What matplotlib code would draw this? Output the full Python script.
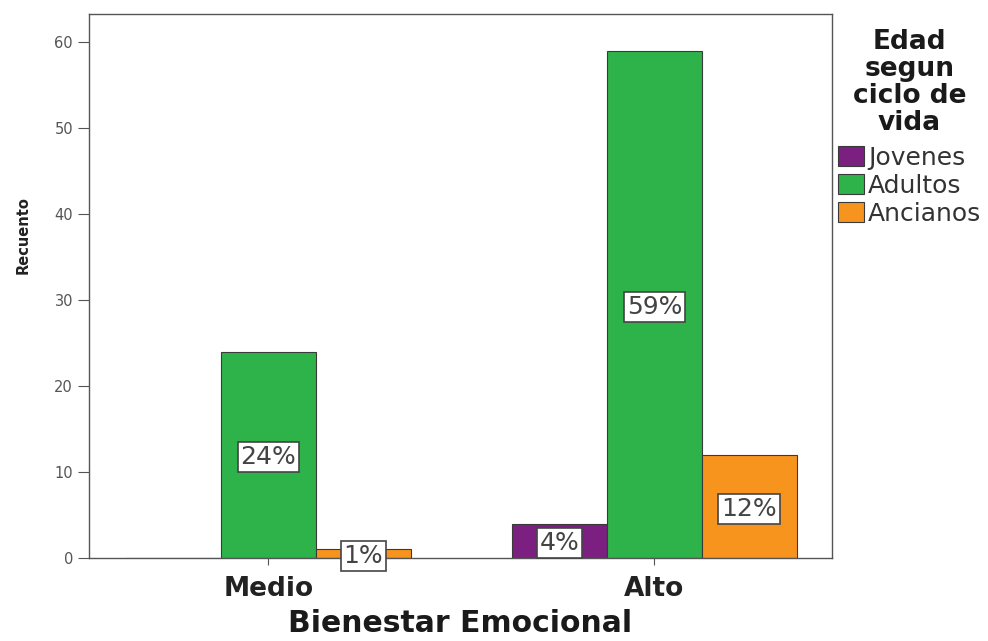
import matplotlib
matplotlib.use("Agg")
import matplotlib.pyplot as plt
import numpy as np

categories = ["Medio", "Alto"]
series_names = ["Jovenes", "Adultos", "Ancianos"]
jovenes = [0, 4]
adultos = [24, 59]
ancianos = [1, 12]
pct_jovenes = ["", "4%"]
pct_adultos = ["24%", "59%"]
pct_ancianos = ["1%", "12%"]
yticks = [0, 10, 20, 30, 40, 50, 60]

colors = ["#7B1F80", "#2DB34A", "#F7941E"]

plt.rcParams['font.family'] = ['DejaVu Sans']
fig = plt.figure(figsize=(9.88, 6.41), dpi=100)
ax = fig.add_axes([0.090, 0.1295, 0.752, 0.8485])

x = np.arange(len(categories))
w = 0.246
series = [jovenes, adultos, ancianos]
pcts = [pct_jovenes, pct_adultos, pct_ancianos]
for i, (vals, lab, name) in enumerate(zip(series, pcts, series_names)):
    pos = x + (i - 1) * w
    ax.bar(pos, vals, width=w, color=colors[i], edgecolor="#3a3a3a", linewidth=0.8, label=name)
    for p, v, t in zip(pos, vals, lab):
        if t:
            ax.text(p, v / 2 - 0.3, t, ha="center", va="center", fontsize=18, color="#444444",
                    bbox=dict(boxstyle="square,pad=0.12", facecolor="white", edgecolor="#444444", linewidth=1.2))

ax.set_xlim(-0.465, 1.46)
ax.set_ylim(0, 63.3)
ax.set_yticks(yticks)
ax.set_xticks(x)
ax.set_xticklabels(categories, fontsize=19, fontweight="bold", color="#222222")
ax.tick_params(axis="y", labelsize=10.5, labelcolor="#555555", length=8, color="#555555", direction="out")
ax.tick_params(axis="x", length=5, color="#555555", direction="out", pad=8)
for s in ax.spines.values():
    s.set_color("#555555")
    s.set_linewidth(1)

ax.set_xlabel("Bienestar Emocional", fontsize=21.5, fontweight="bold", color="#1a1a1a", labelpad=5)
ax.set_ylabel("Recuento", fontsize=10.5, fontweight="bold", color="#222222")
ax.yaxis.set_label_coords(-0.078, 0.594)

leg = fig.legend(loc="upper left", bbox_to_anchor=(0.848, 0.954), frameon=False,
                 title="Edad\nsegun\nciclo de\nvida", fontsize=18,
                 handlelength=1.05, handleheight=0.85, handletextpad=0.15, labelspacing=0.17,
                 borderaxespad=0, borderpad=0.0, alignment="center")
title = leg.get_title()
title.set_fontsize(19)
title.set_fontweight("bold")
title.set_color("#1a1a1a")
title.set_linespacing(1.05)
title.set_multialignment("center")
leg._legend_box.sep = 6.5
for t in leg.get_texts():
    t.set_color("#333333")

fig.savefig("out.png", dpi=100)
